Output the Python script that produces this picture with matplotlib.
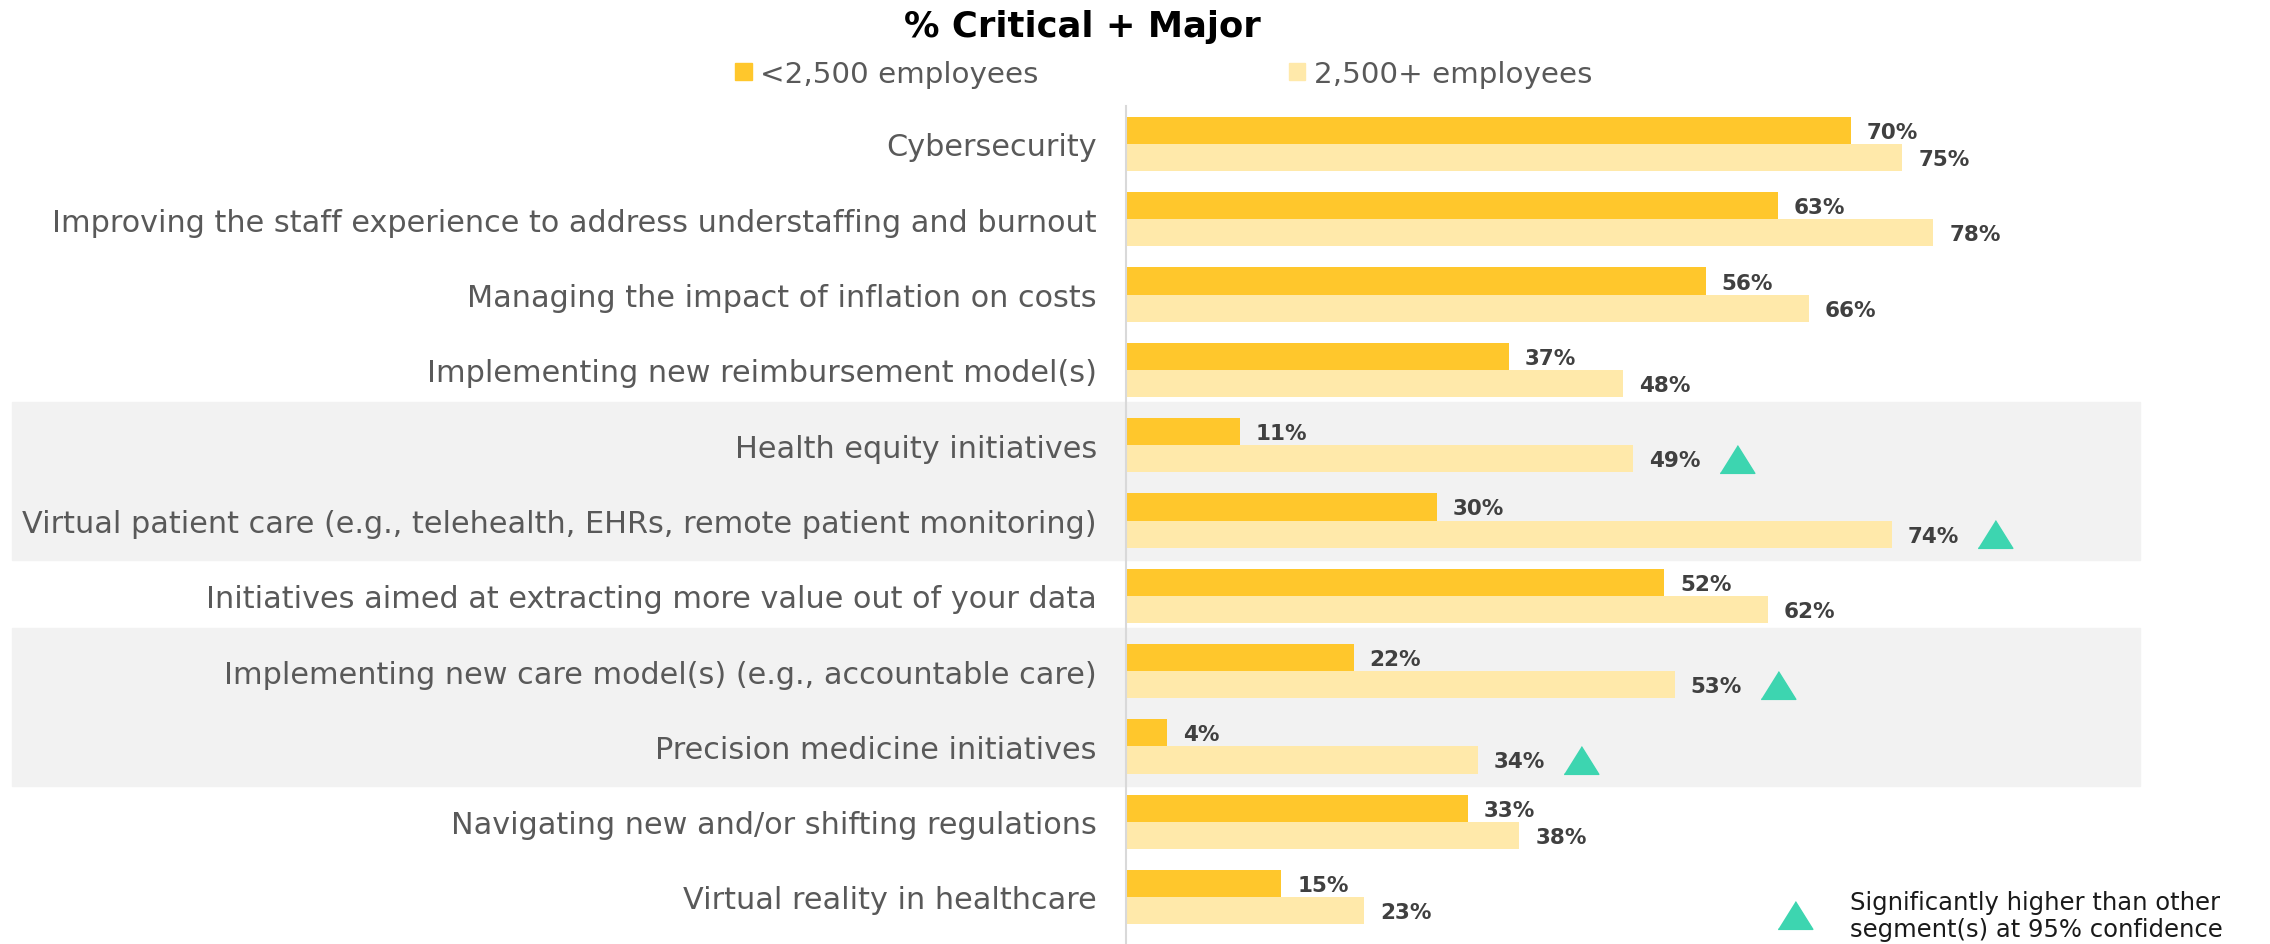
import numpy as np
import matplotlib.pyplot as plt
import matplotlib.transforms as mtransforms
from matplotlib.patches import Rectangle, Patch

# ---------------------data-----------------------
categories = [
    "Cybersecurity",
    "Improving the staff experience to address understaffing and burnout",
    "Managing the impact of inflation on costs",
    "Implementing new reimbursement model(s)",
    "Health equity initiatives",
    "Virtual patient care (e.g., telehealth, EHRs, remote patient monitoring)",
    "Initiatives aimed at extracting more value out of your data",
    "Implementing new care model(s) (e.g., accountable care)",
    "Precision medicine initiatives",
    "Navigating new and/or shifting regulations",
    "Virtual reality in healthcare",
]
small_orgs = [70, 63, 56, 37, 11, 30, 52, 22, 4, 33, 15]     # <2,500 employees
large_orgs = [75, 78, 66, 48, 49, 74, 62, 53, 34, 38, 23]    # 2,500+ employees
large_significant = [False, False, False, False, True, True, False, True, True, False, False]
shaded_rows = [(4, 5), (7, 8)]
series_names = ["<2,500 employees", "2,500+ employees"]

# ---------------------style-----------------------
c_dark = "#FFC72C"
c_light = "#FFE9AA"
c_band = "#F2F2F2"
c_teal = "#3DD5B0"
c_label = "#595959"
c_value = "#404040"
plt.rcParams['font.family'] = ['DejaVu Sans']

W, H = 2270, 945
fig = plt.figure(figsize=(W / 100, H / 100), dpi=100)
x0_px, top_px, pitch_px, first_px = 1126, 107, 75.3, 145
px_per_pct = 10.35
ax = fig.add_axes([x0_px / W, 0, 1 - x0_px / W, 1 - top_px / H])
ax.patch.set_visible(False)

n = len(categories)
y = np.arange(n)
h = 0.36
ax.barh(y - h / 2, small_orgs, height=h, color=c_dark, zorder=2)
ax.barh(y + h / 2, large_orgs, height=h, color=c_light, zorder=2)

ax.set_xlim(0, (W - x0_px) / px_per_pct)
ax.set_ylim((H - first_px) / pitch_px, (top_px - first_px) / pitch_px)

off = 16 / px_per_pct
for i in range(n):
    ax.text(small_orgs[i] + off, y[i] - h / 2 + 0.02, f"{small_orgs[i]}%", va='center', ha='left',
            fontsize=15.5, fontweight='bold', color=c_value)
    ax.text(large_orgs[i] + off, y[i] + h / 2 + 0.02, f"{large_orgs[i]}%", va='center', ha='left',
            fontsize=15.5, fontweight='bold', color=c_value)

tri = [(-1, -0.8), (1, -0.8), (0, 0.8)]
sig_x = [large_orgs[i] + 10 for i in range(n) if large_significant[i]]
sig_y = [y[i] + h / 2 for i in range(n) if large_significant[i]]
ax.plot(sig_x, sig_y, linestyle='none', marker=tri, markersize=25, color=c_teal, zorder=3)

# shaded bands across labels and bars
blend = mtransforms.blended_transform_factory(fig.transFigure, ax.transData)
for r0, r1 in shaded_rows:
    ax.add_patch(Rectangle((12 / W, r0 - 0.57), (2140 - 12) / W, (r1 - r0) + 1.1,
                           transform=blend, color=c_band, clip_on=False, zorder=0))

ax.set_yticks(y)
ax.set_yticklabels(categories, fontsize=21.8, color=c_label)
ax.tick_params(axis='y', length=0, pad=21)
ax.set_xticks([])
for s in ['top', 'right', 'bottom']:
    ax.spines[s].set_visible(False)
ax.spines['left'].set_color("#D9D9D9")
ax.spines['left'].set_linewidth(1.5)

fig.text(1082 / W, 1 - 27 / H, "% Critical + Major", ha='center', va='center',
         fontsize=25.5, fontweight='bold', color='black')
handles = [Patch(color=c_dark), Patch(color=c_light)]
fig.legend(handles, series_names, loc='center', bbox_to_anchor=(1164 / W, 1 - 75 / H), ncol=2,
           frameon=False, fontsize=21.2, labelcolor=c_label, handlelength=0.55, handleheight=0.55,
           handletextpad=0.3, columnspacing=8.5)

# significance note
ax.plot([1795 / W], [1 - 916 / H], transform=fig.transFigure, marker=tri, markersize=25,
        color=c_teal, clip_on=False, linestyle='none')
fig.text(1850 / W, 1 - 910 / H, "Significantly higher than other", ha='left', va='baseline',
         fontsize=17.5, color='#1A1A1A')
fig.text(1850 / W, 1 - 937 / H, "segment(s) at 95% confidence", ha='left', va='baseline',
         fontsize=17.5, color='#1A1A1A')

plt.savefig("out.png", dpi=100)
